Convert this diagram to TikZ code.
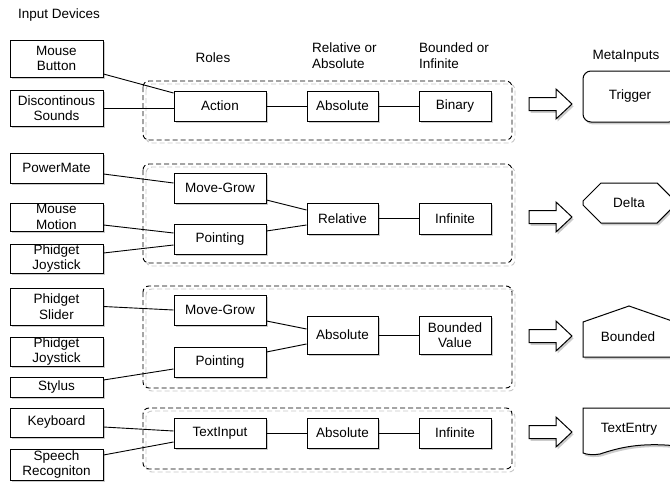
\documentclass[tikz,border=0pt]{standalone}
\usepackage{fontspec}
\setmainfont{Liberation Sans}
\usetikzlibrary{shadows,shapes.misc}
\begin{document}
\begin{tikzpicture}[x=1pt,y=-1pt,
  lbl/.style={font=\fontsize{13.5}{15.5}\selectfont, align=center, inner sep=0pt},
  shade/.style={drop shadow={shadow xshift=1.6pt, shadow yshift=-2.4pt, opacity=0.4}},
  box/.style={lbl, draw, line width=1pt, fill=white, shade},
  devbox/.style={box, minimum width=93pt},
  rolebox/.style={box, minimum width=92pt, minimum height=30pt},
  kindbox/.style={box, minimum width=71pt, minimum height=30pt},
  rangebox/.style={box, minimum width=72pt, minimum height=30pt},
  linkline/.style={line width=0.9pt},
  grpline/.style={draw, line width=0.9pt, rounded corners=6pt, dash pattern=on 5pt off 3pt},
  grpshade/.style={draw=black!22, line width=0.9pt, rounded corners=6pt, dash pattern=on 5pt off 3pt},
  bigarrow/.style={draw, fill=white, line width=1pt, line join=miter, shade},
  metabox/.style={lbl, draw, line width=1pt, fill=white, shade},
]
\useasboundingbox (0,0) rectangle (670,482);
\fill[white] (0,0) rectangle (670,482);

% column headings
\node[lbl, anchor=west] (hdev) at (18,15) {Input Devices};
\node[lbl] (hrole) at (213,58) {Roles};
\node[lbl, align=left, anchor=west] (hkind) at (312,55.5) {Relative or\\Absolute};
\node[lbl, align=left, anchor=west] (hrange) at (419,55.5) {Bounded or\\Infinite};
\node[lbl] (hmeta) at (626,56) {MetaInputs};

% dashed groups (light offset copy underneath)
\foreach \t/\b in {81/140, 164/263, 286/388, 408/469}{
  \draw[grpshade] (146,\t+3) rectangle (515,\b+3);
  \draw[grpline] (143,\t) rectangle (512,\b);
}

% input devices
\node[devbox, minimum height=37pt] (mb)  at (56.5,58.5)  {Mouse\\Button};
\node[devbox, minimum height=36pt] (ds)  at (56.5,108)   {Discontinous\\Sounds};
\node[devbox, minimum height=30pt] (pm)  at (56.5,168)   {PowerMate};
\node[devbox, minimum height=28pt] (mm)  at (56.5,217)   {Mouse\\Motion};
\node[devbox, minimum height=29pt] (pja) at (56.5,258.5) {Phidget\\Joystick};
\node[devbox, minimum height=37pt] (ps)  at (56.5,306.5) {Phidget\\Slider};
\node[devbox, minimum height=29pt] (pjb) at (56.5,351.5) {Phidget\\Joystick};
\node[devbox, minimum height=20pt] (st)  at (56.5,387)   {Stylus};
\node[devbox, minimum height=29pt] (kb)  at (56.5,422.5) {Keyboard};
\node[devbox, minimum height=31pt] (sr)  at (56.5,464.5) {Speech\\Recogniton};

% roles
\node[rolebox] (act) at (220,106) {Action};
\node[rolebox] (mga) at (220,188) {Move-Grow};
\node[rolebox] (pta) at (220,239) {Pointing};
\node[rolebox] (mgb) at (220,310) {Move-Grow};
\node[rolebox] (ptb) at (220,362) {Pointing};
\node[rolebox] (ti)  at (220,433) {TextInput};

% relative or absolute
\node[kindbox] (aba) at (342.5,106) {Absolute};
\node[kindbox, minimum height=31pt] (rel) at (342.5,218.5) {Relative};
\node[kindbox, minimum height=38pt] (abb) at (342.5,335) {Absolute};
\node[kindbox] (abc) at (342.5,433) {Absolute};

% bounded or infinite
\node[rangebox] (bin) at (455,106) {Binary};
\node[rangebox, minimum height=31pt] (infa) at (455,218.5) {Infinite};
\node[rangebox, minimum height=38pt] (bv) at (455,335) {Bounded\\Value};
\node[rangebox] (infb) at (455,433) {Infinite};

% connectors
\begin{scope}[linkline]
\draw ([yshift=-15.5pt]mb.east) -- ([yshift=13pt]act.west);
\draw (ds.east) -- ([yshift=-2pt]act.west);
\draw (act) -- (aba);
\draw (aba) -- (bin);

\draw ([yshift=-6pt]pm.east) -- ([yshift=5pt]mga.west);
\draw ([yshift=-8pt]mm.east) -- ([yshift=6pt]pta.west);
\draw ([yshift=5.5pt]pja.east) -- ([yshift=-6pt]pta.west);
\draw ([yshift=-12pt]mga.east) -- ([yshift=8.5pt]rel.west);
\draw ([yshift=8pt]pta.east) -- ([yshift=-6.5pt]rel.west);
\draw (rel) -- (infa);

\draw (ps.east) -- (mgb.west);
\draw ([yshift=7pt]st.east) -- ([yshift=-7pt]ptb.west);
\draw ([yshift=-11pt]mgb.east) -- ([yshift=6pt]abb.west);
\draw ([yshift=10pt]ptb.east) -- ([yshift=-9pt]abb.west);
\draw (abb) -- (bv);

\draw ([yshift=-4.5pt]kb.east) -- ([yshift=2pt]ti.west);
\draw ([yshift=9.5pt]sr.east) -- ([yshift=-9pt]ti.west);
\draw (ti) -- (abc);
\draw (abc) -- (infb);
\end{scope}

% block arrows pointing to the meta inputs
\foreach \y in {104, 217, 336, 432}{
  \draw[bigarrow] (529,\y-6.5) -- (556,\y-6.5) -- (556,\y-15) -- (572,\y)
    -- (556,\y+15) -- (556,\y+6.5) -- (529,\y+6.5) -- cycle;
}

% meta inputs
\node[metabox, rounded corners=8pt, minimum width=94pt, minimum height=51pt] (trig) at (630,96.5) {Trigger};
\node[metabox, chamfered rectangle, chamfered rectangle xsep=27pt, chamfered rectangle ysep=13pt,
      minimum width=92pt, minimum height=40pt] (delta) at (629,203) {Delta};
\draw[line width=1pt, fill=white, shade]
  (583,357) -- (583,322) -- (629,306) -- (675,322) -- (675,357) -- cycle;
\node[lbl] (bnd) at (628,337) {Bounded};
\draw[line width=1pt, fill=white, shade]
  (583,408) -- (677,408) -- (677,446)
  .. controls (640,442) and (618,448) .. (600,454)
  .. controls (594,455) and (588,455) .. (583,453) -- cycle;
\node[lbl] (tent) at (629,429) {TextEntry};
\end{tikzpicture}
\end{document}
